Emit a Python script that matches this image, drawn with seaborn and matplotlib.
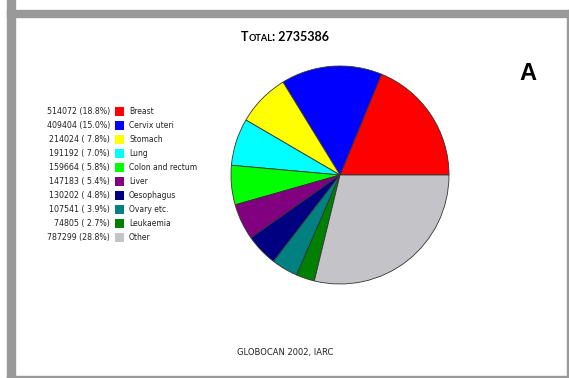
import matplotlib
matplotlib.use("Agg")
import matplotlib.pyplot as plt
from matplotlib.patches import Rectangle
import seaborn as sns

sns.set_theme(style="white")
plt.rcParams['font.family'] = ['DejaVu Sans']

sites = ["Breast", "Cervix uteri", "Stomach", "Lung", "Colon and rectum",
         "Liver", "Oesophagus", "Ovary etc.", "Leukaemia", "Other"]
cases = [514072, 409404, 214024, 191192, 159664, 147183, 130202, 107541, 74805, 787299]
pct_labels = ["18.8", "15.0", " 7.8", " 7.0", " 5.8", " 5.4", " 4.8", " 3.9", " 2.7", "28.8"]
colors = ["#FF0000", "#0000FF", "#FFFF00", "#00FFFF", "#00FF00",
          "#800080", "#000080", "#008080", "#008000", "#C4C3C7"]
total = 2735386

W, H = 569, 378
fig = plt.figure(figsize=(W / 100, H / 100), dpi=100)
fig.patch.set_facecolor("white")

def fx(x):
    return x / W

def fy(y):
    return 1 - y / H

# gray frame
frame_col = "#999999"
fig.patches.append(Rectangle((fx(7), fy(378)), fx(8), 1, transform=fig.transFigure,
                             color=frame_col, zorder=0))
fig.patches.append(Rectangle((fx(7), fy(17)), fx(562), fy(10) - fy(17), transform=fig.transFigure,
                             color=frame_col, zorder=0))
fig.patches.append(Rectangle((fx(566.5), 0), fx(2.5), 1 - 10 / H, transform=fig.transFigure,
                             color=frame_col, zorder=0))
fig.patches.append(Rectangle((fx(7), 0), fx(562), 1.8 / H, transform=fig.transFigure,
                             color=frame_col, zorder=0))

# pie
cx, cy, r = 340, 175, 109
ax = fig.add_axes([fx(cx - r), fy(cy + r), 2 * r / W, 2 * r / H])
ax.pie(cases, colors=colors, startangle=0, counterclock=True,
       wedgeprops=dict(edgecolor="#333333", linewidth=0.6))
ax.set_xlim(-1, 1)
ax.set_ylim(-1, 1)
ax.set_aspect("equal")
ax.axis("off")
for p in ax.patches:
    p.set_clip_on(False)

# title in small caps, built from pieces
renderer = fig.canvas.get_renderer()
pieces = [("T", 9), ("OTAL", 6.6), (f": {total}", 9)]
texts = []
for s, size in pieces:
    t = fig.text(0, fy(41), s, ha="left", va="baseline", fontsize=size,
                 fontweight="bold", color="black", family=["Lato", "DejaVu Sans"])
    texts.append(t)
widths = [t.get_window_extent(renderer=renderer).width for t in texts]
x = 285 - sum(widths) / 2
for t, w in zip(texts, widths):
    t.set_x(fx(x))
    x += w

# letter
fig.text(fx(528), fy(73), "A", ha="center", va="center", fontsize=17,
         fontweight="bold", color="black", family=["Liberation Sans", "DejaVu Sans"])

# legend
for i, (s, c, p, col) in enumerate(zip(sites, cases, pct_labels, colors)):
    y = 111.5 + 14 * i
    fig.text(fx(110), fy(y), f"{c} ({p}%)", ha="right", va="center",
             fontsize=5.7, color="#222222")
    fig.patches.append(Rectangle((fx(115), fy(y + 4.5)), fx(9), 9 / H,
                                 transform=fig.transFigure, facecolor=col,
                                 edgecolor="none"))
    fig.text(fx(129), fy(y), s, ha="left", va="center", fontsize=5.5, color="#222222")

# footer
fig.text(fx(285), fy(353), "GLOBOCAN 2002, IARC", ha="center", va="center",
         fontsize=6, color="#222222")

fig.savefig("out.png", dpi=100, facecolor="white")
